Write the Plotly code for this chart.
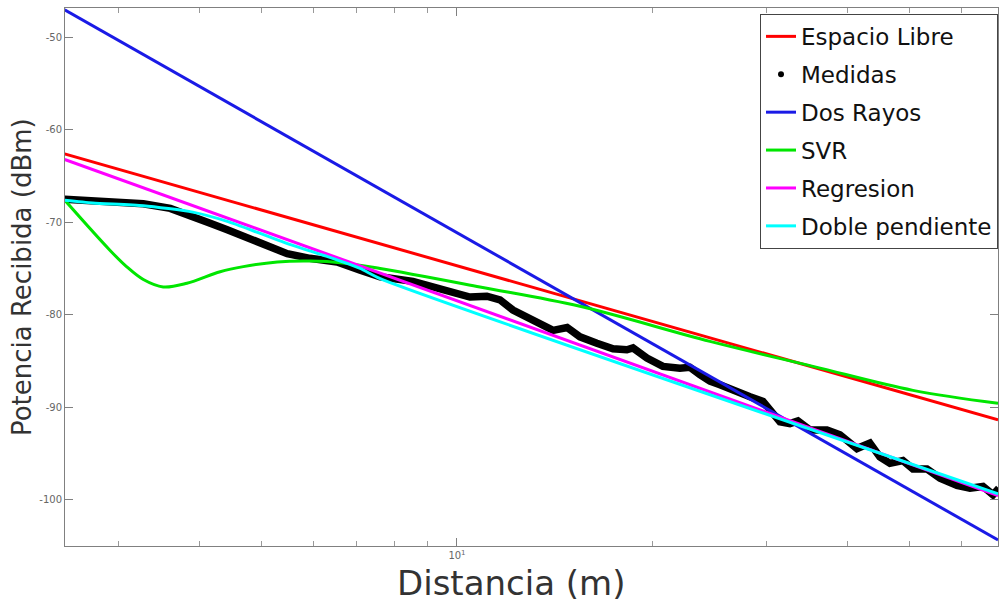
import plotly.graph_objects as go

# ---- data ----
dist_lines = [2.48, 68.4]
espacio_libre = [-62.6, -91.4]
dos_rayos = [-47.0, -104.4]
regresion = [-63.2, -99.6]

dist_med = [2.48, 2.81, 3.28, 3.61, 3.91, 4.16, 4.42, 4.74, 5.09, 5.47, 5.93, 6.53,
            7.09, 7.61, 8.55, 9.65, 10.47, 11.12, 11.65, 12.2, 12.64, 13.43, 14.07,
            14.79, 15.48, 16.44, 17.41, 18.29, 18.69, 19.64, 20.79, 22.08, 22.88,
            23.71, 24.57, 25.46, 27.04, 28.33, 29.67, 30.41, 31.51, 32.65, 33.59,
            35.06, 37.24, 39.0, 41.43, 43.38, 44.95, 46.58, 48.78, 50.55, 53.13,
            55.65, 59.11, 61.91, 64.84, 67.19, 68.6]
pot_med = [-67.5, -67.7, -68.0, -68.5, -69.3, -70.1, -70.8, -71.7, -72.6, -73.4, -73.9, -74.3,
           -75.2, -75.9, -76.4, -77.5, -78.1, -78.0, -78.4, -79.5, -80.0, -80.9, -81.7,
           -81.4, -82.4, -83.1, -83.7, -83.8, -83.6, -84.7, -85.6, -85.8, -85.7,
           -86.5, -87.2, -87.6, -88.4, -88.9, -89.4, -90.3, -91.6, -91.8, -91.5,
           -92.5, -92.5, -93.0, -94.5, -93.9, -95.4, -96.1, -95.8, -96.7, -96.7,
           -97.7, -98.5, -98.8, -98.6, -99.5, -98.8]

dist_svr = [2.48, 2.91, 3.09, 3.28, 3.52, 3.83, 4.31, 4.68, 5.28, 5.93,
            6.67, 7.61, 10.85, 15.48, 24.57, 35.43, 50.55, 68.4]
pot_svr = [-67.6, -73.0, -74.8, -76.2, -77.0, -76.6, -75.35, -74.8, -74.3, -74.2,
           -74.4, -75.0, -77.0, -79.1, -82.9, -85.6, -88.2, -89.6]

dist_doble = [2.48, 2.74, 3.28, 3.91, 4.42, 4.97, 5.58, 6.30, 7.09, 7.61, 68.4]
pot_doble = [-67.6, -67.9, -68.2, -68.9, -69.9, -71.2, -72.5, -73.7, -75.0, -76.1, -99.4]

y_ticks = [-100, -90, -80, -70, -60, -50]
y_tick_text = ["-100", "-90", "-80", "-70", "-60", "-50"]
x_major = [10]
x_major_text = ["10<sup>1</sup>"]
x_minor = [3, 4, 5, 6, 7, 8, 9, 20, 30, 40, 50, 60]

FONT = "DejaVu Sans"
W = 3

fig = go.Figure()
fig.add_trace(go.Scatter(x=dist_lines, y=espacio_libre, mode="lines", name="Espacio Libre",
                         line=dict(color="#ff0000", width=W), legendgroup="a"))
fig.add_trace(go.Scatter(x=dist_med, y=pot_med, mode="lines", name="Medidas",
                         line=dict(color="#000000", width=7.5), showlegend=False,
                         legendgroup="b"))
fig.add_trace(go.Scatter(x=[None], y=[None], mode="markers", name="Medidas",
                         marker=dict(color="#000000", size=6), legendgroup="b"))
fig.add_trace(go.Scatter(x=dist_lines, y=dos_rayos, mode="lines", name="Dos Rayos",
                         line=dict(color="#1a1ae6", width=W), legendgroup="c"))
fig.add_trace(go.Scatter(x=dist_svr, y=pot_svr, mode="lines", name="SVR",
                         line=dict(color="#00e600", width=W, shape="spline", smoothing=1),
                         legendgroup="d"))
fig.add_trace(go.Scatter(x=dist_lines, y=regresion, mode="lines", name="Regresion",
                         line=dict(color="#ff00ff", width=W), legendgroup="e"))
fig.add_trace(go.Scatter(x=dist_doble, y=pot_doble, mode="lines", name="Doble pendiente",
                         line=dict(color="#00ffff", width=W, shape="spline", smoothing=0.6),
                         legendgroup="f"))

fig.update_layout(
    width=999, height=610, autosize=False,
    margin=dict(l=65, r=1, t=8, b=64),
    paper_bgcolor="white", plot_bgcolor="white",
    font=dict(family=FONT, color="#222222"),
    showlegend=True,
    legend=dict(x=1, xanchor="right", y=0.989, yanchor="top",
                bgcolor="white", bordercolor="#444444", borderwidth=1,
                font=dict(family=FONT, size=23, color="#111111"),
                tracegroupgap=5, traceorder="grouped"),
    xaxis=dict(type="log", range=[0.395, 1.835], showgrid=False, zeroline=False,
               showline=True, linecolor="#808080", linewidth=1, mirror="ticks",
               ticks="inside", ticklen=8, tickcolor="#808080",
               tickvals=x_major, ticktext=x_major_text,
               tickfont=dict(family=FONT, size=10, color="#666666"),
               minor=dict(tickvals=x_minor, ticks="inside", ticklen=5,
                          tickcolor="#999999", showgrid=False)),
    yaxis=dict(range=[-105.05, -46.8], showgrid=False, zeroline=False,
               showline=True, linecolor="#808080", linewidth=1, mirror="ticks",
               ticks="inside", ticklen=8, tickcolor="#808080",
               tickvals=y_ticks, ticktext=y_tick_text,
               tickfont=dict(family=FONT, size=10, color="#666666")),
    annotations=[
        dict(text="Potencia Recibida (dBm)", xref="paper", yref="paper",
             x=-0.046, y=0.5, xanchor="center", yanchor="middle", textangle=-90,
             showarrow=False, font=dict(family=FONT, size=26, color="#333333")),
        dict(text="Distancia (m)", xref="paper", yref="paper",
             x=0.479, y=-0.069, xanchor="center", yanchor="middle",
             showarrow=False, font=dict(family=FONT, size=34, color="#333333")),
    ],
)

fig.write_html("out.html", config={"displayModeBar": False},
               post_script="document.body.style.margin='0px';document.body.style.overflow='hidden';")
